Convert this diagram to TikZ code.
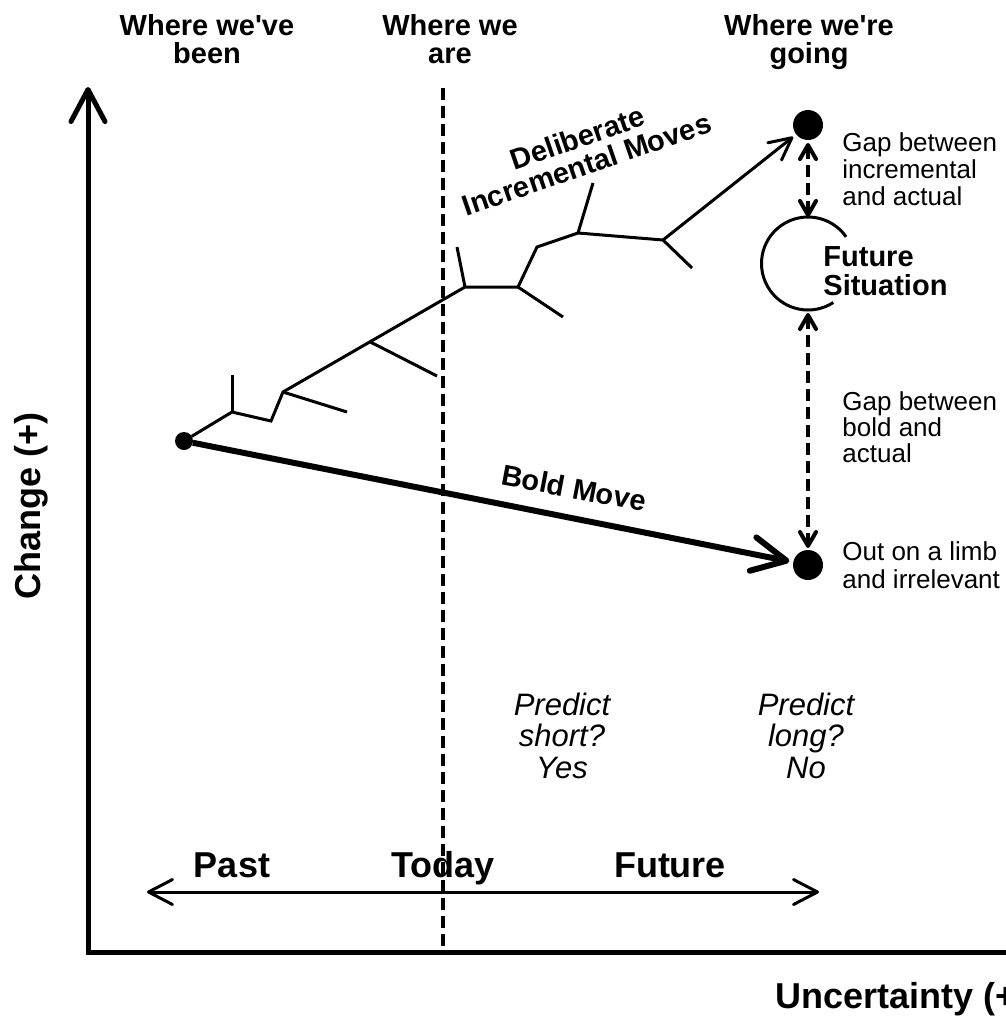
\documentclass[tikz,border=0pt]{standalone}
\usepackage{fontspec}
\setmainfont{Liberation Sans}
\usetikzlibrary{arrows.meta}
\begin{document}
\begin{tikzpicture}[x=0.5pt,y=-0.5pt,
  toplabel/.style={font=\fontsize{14.5}{14}\selectfont\bfseries, align=center, inner sep=0, anchor=base},
  biglabel/.style={font=\fontsize{18}{18}\selectfont\bfseries, inner sep=0, anchor=base},
  notetext/.style={font=\fontsize{13}{13.4}\selectfont, align=left, inner sep=0, anchor=base west},
  predtext/.style={font=\fontsize{15.5}{15.75}\selectfont\itshape, align=center, inner sep=0, anchor=base},
  movetext/.style={font=\fontsize{14.5}{14}\selectfont\bfseries, align=center, inner sep=0},
  dot/.style={circle, fill, inner sep=0, outer sep=0},
  pathline/.style={line width=1.5pt},
  boldline/.style={line width=3pt},
  axisline/.style={line width=2.5pt},
  todayline/.style={line width=2pt, dash pattern=on 6pt off 3pt},
  gaparrow/.style={line width=2pt, dash pattern=on 6pt off 3pt,
     {Straight Barb[length=7pt,width=8pt,round]}-{Straight Barb[length=7pt,width=8pt,round]}}
]
\useasboundingbox (0,0) rectangle (1006,1017);
\fill[white] (0,0) rectangle (1006,1017);

% axes
\coordinate (yend) at (88,87);
\coordinate (orig) at (88,952);
\coordinate (xend) at (1030,952);
\draw[axisline, {Straight Barb[length=16pt,width=17pt,round]}-] (yend) -- (orig) -- (xend);

% today dashed line
\coordinate (dtop) at (443,88);
\coordinate (dbot) at (443,950);
\draw[todayline] (dtop) -- (dbot);

% top labels (anchor = baseline of last line)
\node[toplabel] (lbeen) at (207,63) {Where we\textquotesingle ve\\been};
\node[toplabel] (lare) at (450,63) {Where we\\are};
\node[toplabel] (lgoing) at (809,63) {Where we\textquotesingle re\\going};

% axis labels
\node[biglabel, rotate=90] (lchange) at (40,506) {Change (+)};
\node[biglabel, anchor=base west] (lunc) at (775,1008) {Uncertainty (+)};

% timeline
\coordinate (tl) at (147,892);
\coordinate (tr) at (819,892);
\draw[pathline, {Straight Barb[length=12pt,width=12.5pt,round]}-{Straight Barb[length=12pt,width=12.5pt,round]}] (tl) -- (tr);
\node[biglabel] (lpast) at (232,877) {Past};
\node[biglabel] (ltoday) at (443,877) {Today};
\node[biglabel] (lfuture) at (670,877) {Future};

% predictions
\node[predtext] (pshort) at (562,778) {Predict\\short?\\Yes};
\node[predtext] (plong) at (806,778) {Predict\\long?\\No};

% dots and future situation
\node[dot, minimum size=9pt] (start) at (184,441) {};
\node[dot, minimum size=15pt] (top) at (808,125) {};
\node[dot, minimum size=15pt] (bot) at (808,565) {};
\node[circle, inner sep=0, outer sep=0, minimum size=46.5pt] (fs) at (808,263.5) {};
\draw[pathline] (fs.35) arc[start angle=35, end angle=303, radius=23.25pt];
\node[font=\fontsize{14.5}{14.5}\selectfont\bfseries, align=left, inner sep=0, anchor=base west] (lfs) at (823,295) {Future\\Situation};

% gap arrows
\draw[gaparrow, shorten <=1.5pt] (top) -- (fs.north);
\draw[gaparrow, shorten >=1pt, shorten <=1.5pt] (fs.south) -- (bot);

% notes
\node[notetext] (gap1) at (842,205) {Gap between\\incremental\\and actual};
\node[notetext, font=\fontsize{13}{13}\selectfont] (gap2) at (842,462) {Gap between\\bold and\\actual};
\node[notetext, font=\fontsize{13}{14}\selectfont] (limb) at (842,588) {Out on a limb\\and irrelevant};

% bold move
\draw[boldline, -{Straight Barb[length=17pt,width=17pt,round]}, shorten >=2pt] (start) -- (bot);
\node[movetext, rotate=-10.8] (lbold) at (574,488) {Bold Move};

% incremental path
\coordinate (p1) at (232,412);
\coordinate (p1b) at (232,375);
\coordinate (p2) at (271,421);
\coordinate (p3) at (283,392);
\coordinate (p3b) at (347,412);
\coordinate (p4) at (370,341.8);
\coordinate (p4b) at (437,376);
\coordinate (p5) at (465,287);
\coordinate (p5b) at (457,247);
\coordinate (p6) at (518,287);
\coordinate (p6b) at (563,317);
\coordinate (p7) at (537,247);
\coordinate (p8) at (578,233);
\coordinate (p8b) at (593,183);
\coordinate (p9) at (663,240);
\coordinate (p9b) at (692,268);
\draw[pathline] (start) -- (p1) -- (p2) -- (p3) -- (p5) -- (p6) -- (p7) -- (p8) -- (p9);
\draw[pathline] (p1) -- (p1b);
\draw[pathline] (p3) -- (p3b);
\draw[pathline] (p4) -- (p4b);
\draw[pathline] (p5) -- (p5b);
\draw[pathline] (p6) -- (p6b);
\draw[pathline] (p8) -- (p8b);
\draw[pathline] (p9) -- (p9b);
\draw[pathline, -{Straight Barb[length=11pt,width=11pt,round]}, shorten >=2pt] (p9) -- (top);
\node[movetext, rotate=19] (ldelib) at (582,151) {Deliberate\\Incremental Moves};
\end{tikzpicture}
\end{document}
